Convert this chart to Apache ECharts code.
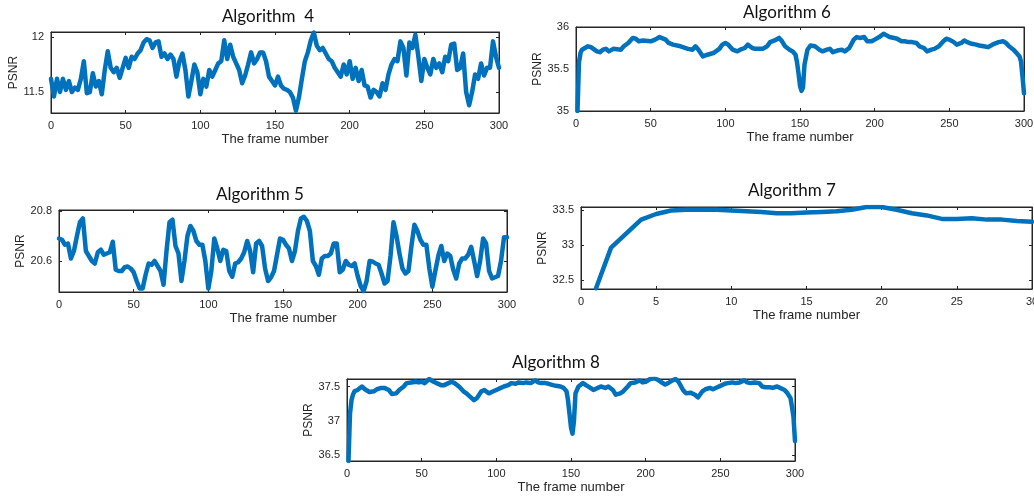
<!DOCTYPE html>
<html>
<head>
<meta charset="utf-8">
<script src="https://cdn.jsdelivr.net/npm/echarts@6/dist/echarts.min.js"></script>
<style>
html, body { margin: 0; padding: 0; background: #fff; }
#chart { width: 1034px; height: 500px; }
</style>
</head>
<body>
<div id="chart"></div>
<script>
// frame numbers used by Algorithm 4 / 5 (every 2nd frame)
var frames2 = [];
for (var f = 0; f <= 300; f += 2) frames2.push(f);

var psnr4 = [
  11.62, 11.46, 11.62, 11.5, 11.62, 11.52, 11.6, 11.5, 11.54, 11.52,
  11.62, 11.78, 11.49, 11.5, 11.67, 11.55, 11.6, 11.48, 11.7, 11.87,
  11.72, 11.68, 11.72, 11.63, 11.72, 11.81, 11.72, 11.82, 11.8, 11.85,
  11.88, 11.95, 11.98, 11.97, 11.9, 11.95, 11.96, 11.82, 11.85, 11.8,
  11.84, 11.8, 11.64, 11.78, 11.85, 11.7, 11.46, 11.6, 11.75, 11.68,
  11.48, 11.62, 11.55, 11.7, 11.64, 11.7, 11.76, 11.78, 11.97, 11.8,
  11.93, 11.82, 11.76, 11.7, 11.58, 11.65, 11.75, 11.86, 11.76, 11.8,
  11.86, 11.86, 11.78, 11.64, 11.6, 11.56, 11.64, 11.56, 11.53, 11.52,
  11.5, 11.45, 11.33, 11.45, 11.62, 11.78, 11.86, 11.97, 12.04, 11.92,
  11.88, 11.9, 11.85, 11.8, 11.78, 11.72, 11.68, 11.64, 11.75, 11.66,
  11.78, 11.62, 11.72, 11.6, 11.7, 11.56, 11.55, 11.45, 11.52, 11.5,
  11.46, 11.58, 11.52, 11.66, 11.75, 11.8, 11.78, 11.96, 11.9, 11.65,
  11.95, 11.9, 12.02, 11.82, 11.6, 11.8, 11.72, 11.66, 11.8, 11.72,
  11.76, 11.68, 11.82, 11.78, 11.93, 11.94, 11.7, 11.72, 11.85, 11.5,
  11.38, 11.5, 11.66, 11.62, 11.76, 11.65, 11.72, 11.72, 11.96, 11.82,
  11.72
];

var psnr5 = [
  20.69, 20.685, 20.665, 20.67, 20.61, 20.64, 20.7, 20.755, 20.77, 20.64,
  20.62, 20.6, 20.59, 20.635, 20.645, 20.625, 20.63, 20.635, 20.677, 20.565,
  20.56, 20.56, 20.575, 20.578, 20.57, 20.555, 20.52, 20.49, 20.49, 20.545,
  20.59, 20.585, 20.6, 20.58, 20.56, 20.505, 20.64, 20.755, 20.765, 20.66,
  20.63, 20.52, 20.6, 20.7, 20.74, 20.72, 20.68, 20.665, 20.665, 20.6,
  20.49, 20.56, 20.69, 20.65, 20.6, 20.645, 20.64, 20.56, 20.537, 20.59,
  20.595, 20.61, 20.635, 20.68, 20.64, 20.555, 20.67, 20.68, 20.66, 20.57,
  20.52, 20.535, 20.56, 20.625, 20.69, 20.685, 20.665, 20.65, 20.6, 20.64,
  20.72, 20.77, 20.777, 20.76, 20.72, 20.6, 20.58, 20.545, 20.61, 20.62,
  20.62, 20.63, 20.67, 20.67, 20.555, 20.565, 20.6, 20.585, 20.58, 20.59,
  20.54, 20.5, 20.48, 20.52, 20.6, 20.598, 20.59, 20.585, 20.55, 20.51,
  20.52, 20.62, 20.755, 20.7, 20.63, 20.57, 20.55, 20.56, 20.66, 20.745,
  20.72, 20.685, 20.665, 20.665, 20.57, 20.497, 20.56, 20.62, 20.66, 20.6,
  20.63, 20.62, 20.565, 20.53, 20.59, 20.61, 20.61, 20.625, 20.657, 20.6,
  20.54, 20.6, 20.69, 20.67, 20.56, 20.53, 20.535, 20.54, 20.6, 20.695,
  20.695
];

var frames6 = [1, 2, 3, 4, 6, 8, 10, 14, 16, 18, 20, 22, 25, 30, 32, 35, 38, 40, 42, 45,
  50, 53, 56, 60, 62, 65, 70, 75, 78, 80, 82, 85, 88, 92, 96, 98, 100, 102, 105, 108,
  110, 113, 115, 118, 120, 125, 128, 130, 133, 136, 138, 140, 143, 145, 147, 148, 149, 150, 151, 152,
  153, 155, 157, 160, 163, 165, 168, 170, 172, 175, 178, 180, 183, 186, 188, 190, 193, 195, 198, 200,
  203, 206, 208, 210, 213, 215, 218, 220, 223, 225, 228, 230, 233, 235, 238, 240, 243, 246, 248, 250,
  253, 255, 258, 260, 262, 265, 268, 270, 273, 276, 280, 283, 286, 288, 290, 293, 295, 297, 298, 299, 300];
var psnr6 = [35.0, 35.58, 35.69, 35.73, 35.75, 35.77, 35.76, 35.71, 35.7, 35.73, 35.74, 35.71, 35.74, 35.73, 35.77, 35.81, 35.87, 35.86, 35.83, 35.84,
  35.83, 35.85, 35.88, 35.85, 35.81, 35.79, 35.77, 35.74, 35.73, 35.77, 35.73, 35.65, 35.67, 35.69, 35.74, 35.79, 35.81, 35.79, 35.73, 35.71,
  35.73, 35.75, 35.79, 35.75, 35.74, 35.74, 35.77, 35.82, 35.84, 35.87, 35.83, 35.77, 35.73, 35.71, 35.67, 35.58, 35.45, 35.3, 35.24, 35.28,
  35.55, 35.73, 35.78, 35.77, 35.73, 35.71, 35.73, 35.74, 35.7, 35.72, 35.73, 35.71, 35.75, 35.85, 35.88, 35.87, 35.88, 35.83, 35.83, 35.85,
  35.88, 35.92, 35.9, 35.88, 35.87, 35.86, 35.83, 35.83, 35.82, 35.82, 35.81, 35.77, 35.75, 35.71, 35.73, 35.74, 35.77, 35.83, 35.86, 35.85,
  35.82, 35.79, 35.81, 35.84, 35.82, 35.8, 35.79, 35.78, 35.77, 35.76, 35.8, 35.82, 35.83, 35.81, 35.77, 35.73, 35.69, 35.65, 35.59, 35.41, 35.21];

var frames7 = [1, 2, 3, 4, 5, 6, 7, 8, 9, 10, 11, 12, 13, 14, 15, 16, 17, 18, 19, 20,
  21, 22, 23, 24, 25, 26, 27, 28, 29, 30];
var psnr7 = [32.38, 32.96, 33.16, 33.36, 33.44, 33.49, 33.5, 33.5, 33.5, 33.49,
  33.48, 33.47, 33.45, 33.45, 33.46, 33.47, 33.48, 33.5, 33.54, 33.54,
  33.5, 33.45, 33.42, 33.37, 33.37, 33.38, 33.36, 33.36, 33.34, 33.33];

var frames8 = [1, 2, 3, 4, 5, 7, 10, 12, 15, 18, 20, 23, 25, 28, 30, 33, 35, 38, 40, 43,
  46, 48, 50, 52, 55, 58, 60, 63, 65, 68, 70, 72, 75, 78, 80, 82, 85, 87, 90, 92,
  95, 98, 100, 103, 105, 108, 110, 113, 115, 118, 120, 123, 126, 128, 130, 133, 135, 138, 140, 143,
  145, 147, 148, 149, 150, 151, 152, 153, 155, 158, 160, 163, 165, 168, 170, 173, 175, 178, 180, 183,
  185, 188, 190, 193, 196, 198, 200, 203, 206, 208, 210, 213, 215, 218, 220, 222, 225, 227, 230, 233,
  235, 238, 240, 243, 245, 248, 250, 253, 255, 258, 260, 263, 266, 268, 270, 273, 276, 278, 280, 283,
  285, 288, 290, 293, 295, 297, 298, 299, 300];
var psnr8 = [36.41, 37.1, 37.3, 37.38, 37.43, 37.45, 37.5, 37.46, 37.42, 37.43, 37.46, 37.48, 37.48, 37.45, 37.39, 37.4, 37.45, 37.5, 37.55, 37.56,
  37.57, 37.56, 37.57, 37.55, 37.61, 37.57, 37.55, 37.52, 37.52, 37.55, 37.57, 37.55, 37.5, 37.43, 37.4, 37.36, 37.3, 37.33, 37.43, 37.45,
  37.4, 37.43, 37.45, 37.48, 37.5, 37.52, 37.55, 37.54, 37.56, 37.55, 37.56, 37.55, 37.59, 37.56, 37.55, 37.55, 37.54, 37.52, 37.51, 37.5,
  37.48, 37.43, 37.3, 37.1, 36.9, 36.81, 37.0, 37.4, 37.5, 37.55, 37.52, 37.48, 37.45, 37.48, 37.5, 37.48, 37.5, 37.45, 37.38, 37.4,
  37.43, 37.5, 37.55, 37.56, 37.59, 37.56, 37.57, 37.61, 37.62, 37.6, 37.57, 37.53, 37.55, 37.59, 37.61, 37.57, 37.45, 37.4, 37.41, 37.38,
  37.34, 37.43, 37.46, 37.48, 37.46, 37.49, 37.51, 37.54, 37.55, 37.56, 37.55, 37.56, 37.59, 37.56, 37.55, 37.56, 37.55, 37.5, 37.49, 37.49,
  37.48, 37.5, 37.48, 37.45, 37.4, 37.33, 37.2, 37.05, 36.7];

// y tick labels of every panel
var yticks4 = [11.5, 12];
var yticks6 = [35, 35.5, 36];
var yticks5 = [20.6, 20.8];
var yticks7 = [32.5, 33, 33.5];
var yticks8 = [36.5, 37, 37.5];

function pairs(xs, ys) {
  return xs.map(function (x, i) { return [x, ys[i]]; });
}

var panels = [
  { title: 'Algorithm  4', tx: 268, ty: 17, left: 51, top: 32, width: 448, height: 81,
    xmax: 300, xint: 50, ymin: 11.31, ymax: 12.045, yticks: yticks4, data: pairs(frames2, psnr4) },
  { title: 'Algorithm 6', tx: 787, ty: 13, left: 576, top: 27, width: 448, height: 84,
    xmax: 300, xint: 50, ymin: 35, ymax: 36, yticks: yticks6, data: pairs(frames6, psnr6) },
  { title: 'Algorithm 5', tx: 260, ty: 195, left: 59, top: 210, width: 448, height: 82,
    xmax: 300, xint: 50, ymin: 20.476, ymax: 20.804, yticks: yticks5, data: pairs(frames2, psnr5) },
  { title: 'Algorithm 7', tx: 792, ty: 191, left: 581, top: 207, width: 451, height: 82,
    xmax: 30, xint: 5, ymin: 32.37, ymax: 33.54, yticks: yticks7, data: pairs(frames7, psnr7) },
  { title: 'Algorithm 8', tx: 556, ty: 363, left: 347, top: 379, width: 448, height: 82,
    xmax: 300, xint: 50, ymin: 36.41, ymax: 37.61, yticks: yticks8, data: pairs(frames8, psnr8) }
];

var ink = '#262626';
var lineCol = '#0072bd';
var grids = [], xAxes = [], yAxes = [], series = [], texts = [];

panels.forEach(function (p, i) {
  grids.push({
    left: p.left, top: p.top, width: p.width, height: p.height,
    show: true, borderColor: ink, borderWidth: 1, backgroundColor: '#fff',
    containLabel: false, outerBoundsMode: 'none'
  });
  var xBase = {
    type: 'value', gridIndex: i, min: 0, max: p.xmax, interval: p.xint,
    splitLine: { show: false },
    axisLine: { show: true, onZero: false, lineStyle: { color: ink, width: 1 } },
    axisTick: { show: true, inside: true, length: 3, lineStyle: { color: ink } }
  };
  xAxes.push(Object.assign({}, xBase, {
    position: 'bottom',
    axisLabel: { show: true, margin: 7, color: ink, fontSize: 11, fontFamily: 'Liberation Sans' },
    name: 'The frame number', nameLocation: 'middle', nameGap: 20,
    nameTextStyle: { color: ink, fontSize: 13, fontFamily: 'Liberation Sans' }
  }));
  xAxes.push(Object.assign({}, xBase, { position: 'top', axisLabel: { show: false } }));

  var yBase = {
    type: 'value', gridIndex: i, min: p.ymin, max: p.ymax,
    splitLine: { show: false },
    axisLine: { show: true, onZero: false, lineStyle: { color: ink, width: 1 } },
    axisTick: { show: true, inside: true, length: 3, customValues: p.yticks, lineStyle: { color: ink } }
  };
  yAxes.push(Object.assign({}, yBase, {
    position: 'left',
    axisLabel: { show: true, margin: 7, customValues: p.yticks, color: ink, fontSize: 11, fontFamily: 'Liberation Sans' },
    name: 'PSNR', nameLocation: 'middle', nameGap: 31, nameRotate: 90,
    nameTextStyle: { color: ink, fontSize: 12, fontFamily: 'Liberation Sans' }
  }));
  yAxes.push(Object.assign({}, yBase, { position: 'right', axisLabel: { show: false } }));

  series.push({
    type: 'line', xAxisIndex: i * 2, yAxisIndex: i * 2,
    data: p.data, showSymbol: false, clip: true, smooth: false,
    lineStyle: { color: lineCol, width: 4.5, join: 'round', cap: 'round' },
    silent: true, animation: false
  });

  texts.push({
    type: 'text', x: p.tx, y: p.ty,
    style: { text: p.title, fill: '#111', font: '17px Lato', align: 'center', verticalAlign: 'middle' }
  });
});

var chart = echarts.init(document.getElementById('chart'), null, { renderer: 'canvas' });
chart.setOption({
  animation: false,
  backgroundColor: '#fff',
  grid: grids,
  xAxis: xAxes,
  yAxis: yAxes,
  series: series,
  graphic: texts
});
</script>
</body>
</html>
